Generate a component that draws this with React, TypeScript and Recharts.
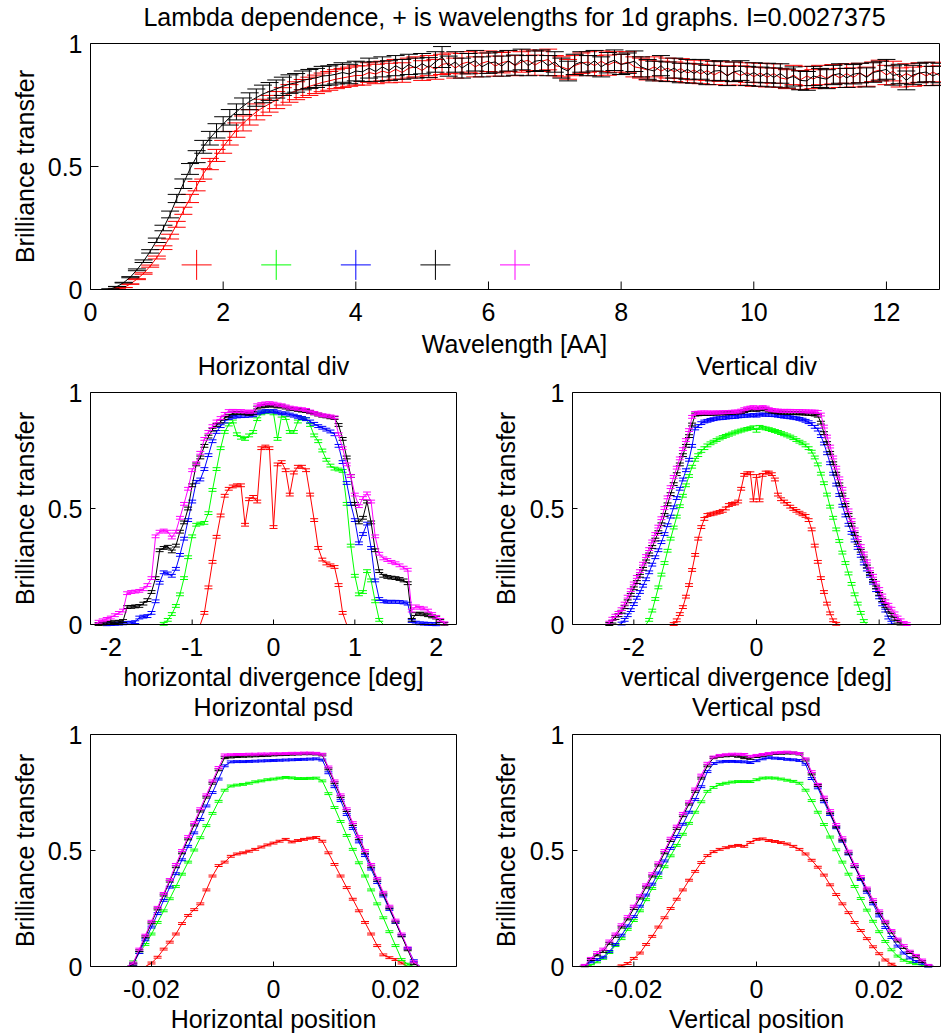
import React from 'react';
import { ComposedChart, Line, XAxis, YAxis, ErrorBar, Scatter } from 'recharts';

const W = 941;
const H = 1036;
const FONT = '"Liberation Sans", Arial, Helvetica, sans-serif';
const FS = 25;

const COLORS: Record<string, string> = { r: '#ff0000', g: '#00ff00', b: '#0000ff', k: '#000000', m: '#ff00ff' };

// ---------- Top panel: wavelength dependence (x from 0.1 step 0.1) ----------
const WL_START = 0.1;
const WL_STEP = 0.1;
const WL_TICKS = [0, 2, 4, 6, 8, 10, 12];
const WL_RED = [
  0, 0, 0, 0.002, 0.008, 0.022, 0.042, 0.065, 0.095, 0.13,
  0.17, 0.215, 0.265, 0.32, 0.37, 0.42, 0.47, 0.51, 0.545, 0.58,
  0.615, 0.648, 0.675, 0.7, 0.722, 0.74, 0.755, 0.77, 0.785, 0.797,
  0.808, 0.817, 0.826, 0.834, 0.842, 0.848, 0.855, 0.86, 0.865, 0.87,
  0.87, 0.882, 0.876, 0.888, 0.88, 0.895, 0.882, 0.9, 0.905, 0.89,
  0.91, 0.895, 0.915, 0.92, 0.9, 0.918, 0.925, 0.905, 0.92, 0.928,
  0.908, 0.922, 0.928, 0.91, 0.925, 0.932, 0.912, 0.928, 0.935, 0.91,
  0.905, 0.895, 0.91, 0.92, 0.925, 0.91, 0.928, 0.912, 0.925, 0.915,
  0.925, 0.905, 0.9, 0.892, 0.905, 0.888, 0.9, 0.885, 0.898, 0.88,
  0.892, 0.876, 0.89, 0.872, 0.886, 0.87, 0.885, 0.87, 0.882, 0.865,
  0.88, 0.862, 0.878, 0.86, 0.855, 0.872, 0.852, 0.868, 0.855, 0.872,
  0.858, 0.875, 0.86, 0.878, 0.862, 0.88, 0.865, 0.885, 0.892, 0.872,
  0.888, 0.862, 0.878, 0.865, 0.882, 0.868, 0.884, 0.87,
];
const WL_BLACK = [
  0, 0, 0.002, 0.012, 0.028, 0.05, 0.08, 0.115, 0.155, 0.2,
  0.25, 0.305, 0.37, 0.43, 0.49, 0.54, 0.58, 0.615, 0.645, 0.672,
  0.7, 0.722, 0.745, 0.765, 0.78, 0.795, 0.805, 0.815, 0.826, 0.835,
  0.84, 0.85, 0.856, 0.86, 0.868, 0.87, 0.875, 0.882, 0.876, 0.888,
  0.885, 0.9, 0.886, 0.905, 0.89, 0.91, 0.895, 0.915, 0.9, 0.918,
  0.902, 0.925, 0.945, 0.908, 0.925, 0.9, 0.918, 0.93, 0.905, 0.92,
  0.925, 0.908, 0.93, 0.912, 0.935, 0.91, 0.928, 0.932, 0.91, 0.925,
  0.9, 0.888, 0.915, 0.925, 0.91, 0.93, 0.905, 0.922, 0.932, 0.915,
  0.92, 0.928, 0.905, 0.895, 0.888, 0.91, 0.885, 0.9, 0.88, 0.895,
  0.878, 0.895, 0.872, 0.888, 0.89, 0.868, 0.885, 0.89, 0.868, 0.882,
  0.865, 0.88, 0.862, 0.878, 0.858, 0.866, 0.85, 0.848, 0.868, 0.86,
  0.855, 0.872, 0.878, 0.86, 0.875, 0.88, 0.862, 0.882, 0.888, 0.895,
  0.87, 0.876, 0.85, 0.872, 0.88, 0.884, 0.868, 0.88,
];
const TOP_REL_ERR = 0.045;
// wavelengths used for the 1d graphs (the big + markers)
const MARK_WL = [1.6, 2.8, 4.0, 5.2, 6.4];
const MARK_LEVEL = 0.1;
const MARK_COLORS = ['r', 'g', 'b', 'k', 'm'];

// ---------- Horizontal divergence (x from -2.2 step 0.05) ----------
const HDIV_START = -2.2;
const HDIV_STEP = 0.05;
const HDIV_TICKS = [-2, -1, 0, 1, 2];
const HDIV_R = [
  0, 0, 0, 0, 0, 0, 0, 0, 0, 0,
  0, 0, 0, 0, 0, 0, 0, 0, 0, 0,
  0, 0, 0, 0, 0, 0, 0, 0.05, 0.16, 0.27,
  0.378, 0.47, 0.555, 0.585, 0.595, 0.6, 0.6, 0.43, 0.54, 0.55,
  0.53, 0.76, 0.767, 0.76, 0.42, 0.69, 0.7, 0.665, 0.56, 0.655,
  0.68, 0.68, 0.665, 0.56, 0.45, 0.33, 0.28, 0.263, 0.255, 0.248,
  0.17, 0.05, 0, 0, 0, 0, 0, 0, 0, 0,
  0, 0, 0, 0, 0, 0, 0, 0, 0, 0,
  0, 0, 0, 0, 0, 0, 0, 0, 0,
];
const HDIV_G = [
  0, 0, 0, 0, 0, 0, 0, 0, 0, 0,
  0, 0, 0, 0, 0, 0, 0, 0.003, 0.02, 0.045,
  0.08, 0.13, 0.2, 0.29, 0.38, 0.43, 0.435, 0.438, 0.48, 0.58,
  0.67, 0.76, 0.83, 0.862, 0.875, 0.82, 0.805, 0.8, 0.815, 0.83,
  0.885, 0.91, 0.915, 0.918, 0.91, 0.8, 0.9, 0.89, 0.83, 0.83,
  0.875, 0.89, 0.885, 0.86, 0.815, 0.79, 0.75, 0.71, 0.685, 0.672,
  0.668, 0.662, 0.52, 0.34, 0.21, 0.13, 0.14, 0.23, 0.19, 0.1,
  0.02, 0, 0, 0, 0, 0, 0, 0, 0, 0,
  0, 0, 0, 0, 0, 0, 0, 0, 0,
];
const HDIV_B = [
  0, 0, 0, 0.001, 0.002, 0.003, 0.004, 0.005, 0.006, 0.008,
  0.01, 0.03, 0.034, 0.036, 0.05, 0.1, 0.18, 0.225, 0.22, 0.21,
  0.24, 0.3, 0.37, 0.45, 0.53, 0.615, 0.625, 0.67, 0.73, 0.79,
  0.83, 0.855, 0.875, 0.89, 0.895, 0.897, 0.898, 0.899, 0.9, 0.902,
  0.91, 0.915, 0.92, 0.918, 0.92, 0.915, 0.91, 0.91, 0.905, 0.9,
  0.895, 0.89, 0.885, 0.875, 0.865, 0.855, 0.848, 0.84, 0.832, 0.82,
  0.77, 0.7, 0.61, 0.52, 0.45, 0.35, 0.39, 0.435, 0.33, 0.19,
  0.11, 0.1, 0.098, 0.098, 0.098, 0.097, 0.095, 0.09, 0.015, 0.008,
  0.005, 0.004, 0.003, 0.002, 0.001, 0, 0, 0, 0,
];
const HDIV_K = [
  0, 0.002, 0.004, 0.006, 0.008, 0.01, 0.012, 0.015, 0.075, 0.076,
  0.078, 0.08, 0.09, 0.105, 0.14, 0.2, 0.32, 0.33, 0.335, 0.315,
  0.34, 0.4, 0.44, 0.5, 0.6, 0.69, 0.72, 0.77, 0.81, 0.84,
  0.86, 0.875, 0.89, 0.9, 0.91, 0.912, 0.912, 0.91, 0.908, 0.91,
  0.935, 0.94, 0.942, 0.945, 0.943, 0.94, 0.94, 0.935, 0.93, 0.928,
  0.925, 0.922, 0.92, 0.915, 0.91, 0.905, 0.9, 0.897, 0.893, 0.89,
  0.86, 0.8, 0.72, 0.64, 0.52, 0.44, 0.46, 0.53, 0.44, 0.32,
  0.23, 0.21, 0.205, 0.202, 0.2, 0.196, 0.19, 0.178, 0.02, 0.045,
  0.047, 0.044, 0.04, 0.035, 0.03, 0.015, 0.003, 0, 0,
];
const HDIV_M = [
  0, 0.012, 0.018, 0.024, 0.03, 0.04, 0.05, 0.06, 0.135, 0.14,
  0.142, 0.145, 0.152, 0.17, 0.2, 0.38, 0.4, 0.405, 0.4, 0.375,
  0.4, 0.46, 0.52, 0.585, 0.665, 0.695, 0.74, 0.8, 0.83, 0.855,
  0.875, 0.89, 0.908, 0.92, 0.921, 0.92, 0.92, 0.918, 0.917, 0.918,
  0.945, 0.95, 0.953, 0.954, 0.952, 0.948, 0.945, 0.94, 0.935, 0.932,
  0.93, 0.928, 0.925, 0.918, 0.912, 0.906, 0.902, 0.9, 0.897, 0.893,
  0.82, 0.76, 0.69, 0.64, 0.56, 0.51, 0.545, 0.565, 0.53, 0.38,
  0.305, 0.285, 0.278, 0.27, 0.264, 0.255, 0.245, 0.236, 0.06, 0.078,
  0.072, 0.069, 0.06, 0.045, 0.033, 0.02, 0.005, 0, 0,
];

// ---------- Vertical divergence (x from -2.5 step 0.05) ----------
const VDIV_START = -2.5;
const VDIV_STEP = 0.05;
const VDIV_TICKS = [-2, 0, 2];
const VDIV_R = [
  0, 0, 0, 0, 0, 0, 0, 0, 0, 0,
  0, 0, 0, 0, 0, 0, 0, 0, 0, 0,
  0, 0, 0, 0.002, 0.018, 0.045, 0.075, 0.12, 0.17, 0.235,
  0.3, 0.37, 0.42, 0.455, 0.472, 0.475, 0.478, 0.482, 0.485, 0.49,
  0.5, 0.515, 0.52, 0.522, 0.53, 0.585, 0.645, 0.652, 0.652, 0.535,
  0.64, 0.535, 0.645, 0.655, 0.655, 0.648, 0.625, 0.56, 0.54, 0.53,
  0.52, 0.508, 0.498, 0.49, 0.482, 0.475, 0.468, 0.45, 0.41, 0.34,
  0.27, 0.2, 0.14, 0.09, 0.048, 0.018, 0.003, 0, 0, 0,
  0, 0, 0, 0, 0, 0, 0, 0, 0, 0,
  0, 0, 0, 0, 0, 0, 0, 0, 0, 0,
  0,
];
const VDIV_G = [
  0, 0, 0, 0, 0, 0, 0, 0, 0, 0,
  0, 0, 0, 0, 0, 0.02, 0.06, 0.11, 0.16, 0.215,
  0.265, 0.318, 0.37, 0.418, 0.465, 0.51, 0.555, 0.6, 0.64, 0.68,
  0.71, 0.73, 0.748, 0.76, 0.772, 0.781, 0.788, 0.795, 0.802, 0.808,
  0.813, 0.818, 0.823, 0.828, 0.832, 0.836, 0.84, 0.843, 0.846, 0.85,
  0.835, 0.852, 0.848, 0.845, 0.842, 0.838, 0.834, 0.83, 0.825, 0.82,
  0.815, 0.81, 0.803, 0.795, 0.788, 0.781, 0.772, 0.76, 0.745, 0.72,
  0.69, 0.65, 0.609, 0.56, 0.508, 0.46, 0.41, 0.36, 0.31, 0.265,
  0.22, 0.175, 0.13, 0.09, 0.05, 0.015, 0, 0, 0, 0,
  0, 0, 0, 0, 0, 0, 0, 0, 0, 0,
  0,
];
const VDIV_B = [
  0, 0, 0, 0, 0, 0, 0.004, 0.02, 0.04, 0.062,
  0.088, 0.115, 0.14, 0.167, 0.195, 0.225, 0.258, 0.29, 0.32, 0.355,
  0.39, 0.428, 0.465, 0.505, 0.545, 0.585, 0.625, 0.665, 0.71, 0.77,
  0.845, 0.855, 0.868, 0.875, 0.878, 0.882, 0.885, 0.888, 0.889, 0.89,
  0.892, 0.893, 0.894, 0.895, 0.897, 0.898, 0.9, 0.9, 0.901, 0.903,
  0.9, 0.905, 0.905, 0.904, 0.904, 0.903, 0.902, 0.9, 0.898, 0.896,
  0.895, 0.893, 0.891, 0.889, 0.886, 0.883, 0.878, 0.872, 0.864, 0.852,
  0.84, 0.812, 0.78, 0.738, 0.695, 0.65, 0.603, 0.558, 0.512, 0.47,
  0.43, 0.395, 0.362, 0.33, 0.296, 0.263, 0.237, 0.21, 0.18, 0.148,
  0.117, 0.087, 0.06, 0.03, 0.008, 0, 0, 0, 0, 0,
  0,
];
const VDIV_K = [
  0, 0, 0.002, 0.012, 0.028, 0.04, 0.055, 0.075, 0.1, 0.128,
  0.156, 0.183, 0.21, 0.24, 0.272, 0.302, 0.334, 0.366, 0.398, 0.432,
  0.472, 0.518, 0.562, 0.605, 0.648, 0.69, 0.73, 0.77, 0.812, 0.862,
  0.905, 0.906, 0.907, 0.907, 0.908, 0.908, 0.909, 0.909, 0.91, 0.91,
  0.91, 0.911, 0.912, 0.913, 0.914, 0.916, 0.92, 0.924, 0.926, 0.927,
  0.925, 0.928, 0.93, 0.927, 0.922, 0.918, 0.916, 0.914, 0.913, 0.913,
  0.912, 0.912, 0.911, 0.911, 0.91, 0.91, 0.909, 0.908, 0.907, 0.905,
  0.9, 0.87, 0.825, 0.782, 0.74, 0.695, 0.65, 0.604, 0.56, 0.515,
  0.472, 0.43, 0.39, 0.352, 0.318, 0.285, 0.25, 0.218, 0.188, 0.16,
  0.132, 0.105, 0.08, 0.06, 0.042, 0.025, 0.012, 0.004, 0, 0,
  0,
];
const VDIV_M = [
  0, 0, 0.008, 0.025, 0.038, 0.05, 0.066, 0.09, 0.12, 0.148,
  0.177, 0.205, 0.23, 0.262, 0.295, 0.325, 0.358, 0.39, 0.422, 0.458,
  0.502, 0.548, 0.592, 0.636, 0.676, 0.716, 0.756, 0.795, 0.838, 0.895,
  0.912, 0.913, 0.914, 0.914, 0.914, 0.913, 0.914, 0.914, 0.914, 0.915,
  0.915, 0.916, 0.917, 0.918, 0.918, 0.922, 0.928, 0.932, 0.935, 0.937,
  0.932, 0.935, 0.937, 0.935, 0.928, 0.925, 0.923, 0.922, 0.921, 0.921,
  0.921, 0.921, 0.92, 0.92, 0.92, 0.919, 0.919, 0.918, 0.918, 0.918,
  0.916, 0.905, 0.853, 0.81, 0.767, 0.72, 0.676, 0.63, 0.585, 0.537,
  0.492, 0.45, 0.41, 0.372, 0.338, 0.306, 0.272, 0.238, 0.21, 0.18,
  0.153, 0.125, 0.1, 0.085, 0.068, 0.048, 0.03, 0.018, 0.007, 0.002,
  0,
];
const DIV_ERR = 0.006;

// ---------- Horizontal psd (x from -0.03 step 0.001) ----------
const PSD_START = -0.03;
const PSD_STEP = 0.001;
const PSD_TICKS = [-0.02, 0, 0.02];
const HPSD_R = [
  0, 0, 0, 0, 0, 0, 0, 0, 0, 0,
  0.015, 0.04, 0.075, 0.105, 0.14, 0.185, 0.22, 0.245, 0.27, 0.33,
  0.39, 0.435, 0.45, 0.475, 0.485, 0.49, 0.497, 0.505, 0.515, 0.524,
  0.532, 0.54, 0.548, 0.537, 0.543, 0.548, 0.553, 0.556, 0.54, 0.49,
  0.44, 0.39, 0.34, 0.29, 0.24, 0.19, 0.14, 0.09, 0.05, 0.038,
  0.03, 0.015, 0, 0, 0, 0, 0, 0, 0, 0,
  0,
];
const HPSD_G = [
  0, 0, 0, 0, 0, 0, 0, 0.02, 0.06, 0.095,
  0.14, 0.19, 0.24, 0.292, 0.345, 0.398, 0.45, 0.502, 0.555, 0.607,
  0.66, 0.712, 0.76, 0.778, 0.782, 0.785, 0.79, 0.796, 0.8, 0.805,
  0.808, 0.812, 0.815, 0.813, 0.81, 0.81, 0.811, 0.812, 0.8, 0.745,
  0.685, 0.625, 0.565, 0.505, 0.447, 0.39, 0.33, 0.27, 0.21, 0.15,
  0.09, 0.03, 0.01, 0, 0, 0, 0, 0, 0, 0,
  0,
];
const HPSD_B = [
  0, 0, 0, 0, 0, 0, 0, 0.01, 0.06, 0.115,
  0.17, 0.228, 0.285, 0.342, 0.4, 0.46, 0.518, 0.576, 0.634, 0.692,
  0.75, 0.808, 0.865, 0.882, 0.883, 0.883, 0.884, 0.885, 0.886, 0.887,
  0.888, 0.889, 0.89, 0.891, 0.892, 0.893, 0.894, 0.895, 0.89, 0.835,
  0.775, 0.715, 0.655, 0.595, 0.537, 0.478, 0.42, 0.362, 0.304, 0.246,
  0.19, 0.134, 0.078, 0.025, 0, 0, 0, 0, 0, 0,
  0,
];
const HPSD_K = [
  0, 0, 0, 0, 0, 0, 0, 0.01, 0.068, 0.128,
  0.188, 0.248, 0.308, 0.368, 0.43, 0.49, 0.55, 0.61, 0.67, 0.73,
  0.79, 0.848, 0.9, 0.903, 0.905, 0.906, 0.907, 0.908, 0.909, 0.91,
  0.912, 0.913, 0.914, 0.915, 0.916, 0.917, 0.917, 0.916, 0.912, 0.852,
  0.792, 0.732, 0.672, 0.612, 0.552, 0.492, 0.432, 0.372, 0.312, 0.252,
  0.192, 0.132, 0.072, 0.012, 0, 0, 0, 0, 0, 0,
  0,
];
const HPSD_M = [
  0, 0, 0, 0, 0, 0, 0, 0.015, 0.075, 0.135,
  0.195, 0.255, 0.315, 0.375, 0.44, 0.5, 0.56, 0.62, 0.68, 0.74,
  0.8, 0.858, 0.912, 0.913, 0.914, 0.914, 0.915, 0.915, 0.916, 0.916,
  0.917, 0.917, 0.918, 0.919, 0.919, 0.92, 0.92, 0.919, 0.915, 0.86,
  0.8, 0.74, 0.68, 0.62, 0.56, 0.5, 0.44, 0.38, 0.32, 0.26,
  0.2, 0.14, 0.08, 0.02, 0, 0, 0, 0, 0, 0,
  0,
];

// ---------- Vertical psd (x from -0.03 step 0.001) ----------
const VPSD_R = [
  0, 0, 0, 0, 0, 0, 0, 0, 0.003, 0.013,
  0.035, 0.058, 0.095, 0.13, 0.17, 0.21, 0.25, 0.29, 0.33, 0.372,
  0.41, 0.448, 0.478, 0.495, 0.505, 0.512, 0.518, 0.522, 0.518, 0.535,
  0.548, 0.55, 0.543, 0.539, 0.534, 0.528, 0.518, 0.505, 0.485, 0.458,
  0.428, 0.394, 0.352, 0.31, 0.27, 0.232, 0.19, 0.155, 0.12, 0.085,
  0.055, 0.028, 0.01, 0, 0, 0, 0, 0, 0, 0,
  0,
];
const VPSD_G = [
  0, 0, 0, 0.005, 0.02, 0.035, 0.06, 0.09, 0.12, 0.16,
  0.198, 0.24, 0.288, 0.336, 0.384, 0.43, 0.477, 0.522, 0.57, 0.617,
  0.665, 0.71, 0.755, 0.772, 0.785, 0.79, 0.795, 0.797, 0.797, 0.797,
  0.805, 0.812, 0.813, 0.812, 0.808, 0.803, 0.798, 0.79, 0.76, 0.715,
  0.665, 0.612, 0.558, 0.503, 0.45, 0.398, 0.345, 0.293, 0.243, 0.195,
  0.15, 0.108, 0.072, 0.045, 0.027, 0.018, 0.012, 0.004, 0, 0,
  0,
];
const VPSD_B = [
  0, 0, 0, 0.02, 0.03, 0.04, 0.065, 0.095, 0.135, 0.175,
  0.215, 0.26, 0.308, 0.355, 0.403, 0.455, 0.509, 0.56, 0.613, 0.665,
  0.72, 0.775, 0.84, 0.875, 0.882, 0.884, 0.884, 0.883, 0.882, 0.879,
  0.887, 0.895, 0.9, 0.898, 0.896, 0.893, 0.891, 0.888, 0.872, 0.81,
  0.77, 0.71, 0.655, 0.598, 0.54, 0.485, 0.43, 0.375, 0.32, 0.27,
  0.218, 0.168, 0.125, 0.088, 0.058, 0.037, 0.022, 0.014, 0.002, 0,
  0,
];
const VPSD_K = [
  0, 0, 0.003, 0.03, 0.05, 0.065, 0.1, 0.13, 0.17, 0.205,
  0.25, 0.295, 0.342, 0.39, 0.437, 0.49, 0.543, 0.595, 0.65, 0.7,
  0.755, 0.812, 0.865, 0.9, 0.906, 0.908, 0.91, 0.906, 0.9, 0.897,
  0.905, 0.91, 0.915, 0.918, 0.919, 0.92, 0.92, 0.916, 0.89, 0.83,
  0.78, 0.72, 0.662, 0.602, 0.545, 0.488, 0.432, 0.38, 0.33, 0.28,
  0.232, 0.188, 0.148, 0.11, 0.082, 0.06, 0.042, 0.022, 0.003, 0,
  0,
];
const VPSD_M = [
  0, 0, 0.005, 0.035, 0.06, 0.075, 0.11, 0.14, 0.18, 0.215,
  0.26, 0.305, 0.352, 0.4, 0.447, 0.5, 0.553, 0.605, 0.66, 0.71,
  0.765, 0.825, 0.876, 0.903, 0.91, 0.913, 0.915, 0.915, 0.914, 0.906,
  0.91, 0.914, 0.918, 0.921, 0.923, 0.924, 0.921, 0.918, 0.895, 0.84,
  0.785, 0.73, 0.672, 0.612, 0.555, 0.497, 0.44, 0.388, 0.338, 0.288,
  0.24, 0.195, 0.155, 0.118, 0.09, 0.066, 0.048, 0.028, 0.005, 0,
  0,
];
const PSD_ERR = 0.004;

const Y_TICKS = [0, 0.5, 1];

// ---------- text ----------
const MAIN_TITLE = 'Lambda dependence, + is wavelengths for 1d graphs. I=0.0027375';
const Y_LABEL = 'Brilliance transfer';

type Rect = { l: number; r: number; t: number; b: number };
type SeriesDef = { key: string; values: number[] };

function buildRows(start: number, step: number, defs: SeriesDef[], err: (v: number) => number) {
  const n = defs[0].values.length;
  const rows: any[] = [];
  for (let i = 0; i < n; i++) {
    const row: any = { x: +(start + i * step).toFixed(5) };
    defs.forEach((d) => {
      const v = d.values[i];
      row[d.key] = v;
      row[d.key + 'Err'] = v > 0 ? err(v) : null;
    });
    rows.push(row);
  }
  return rows;
}

const AX = { stroke: '#000', strokeWidth: 1 };

function Panel(props: {
  rect: Rect;
  rows: any[];
  keys: string[];
  xDomain: [number, number];
  xTicks: number[];
  tickLen: number;
  cap: number;
  markers?: any[];
  markerSize?: number;
}) {
  const { rect, rows, keys, xDomain, xTicks, tickLen, cap, markers, markerSize } = props;
  const A = 0.5;
  const margin = { left: rect.l - A, right: W - rect.r - A, top: rect.t - A, bottom: H - rect.b - A };
  const xTick = (p: any) => (
    <text x={p.x} y={rect.b + 22.5} textAnchor="middle" dominantBaseline="central" fontSize={FS} fontFamily={FONT} fill="#000">
      {String(p.payload.value)}
    </text>
  );
  const yTick = (p: any) => (
    <text x={rect.l - 8} y={p.y} textAnchor="end" dominantBaseline="central" fontSize={FS} fontFamily={FONT} fill="#000">
      {String(p.payload.value)}
    </text>
  );
  const cross = (p: any) => {
    const s = markerSize || 15;
    const c = COLORS[p.payload.color];
    return (
      <g>
        <line x1={p.cx - s} x2={p.cx + s} y1={p.cy} y2={p.cy} stroke={c} strokeWidth={1} />
        <line x1={p.cx} x2={p.cx} y1={p.cy - s} y2={p.cy + s} stroke={c} strokeWidth={1} />
      </g>
    );
  };
  return (
    <div style={{ position: 'absolute', left: 0, top: 0 }}>
      <ComposedChart width={W} height={H} data={rows} margin={margin}>
        <XAxis xAxisId="b" type="number" dataKey="x" domain={xDomain} ticks={xTicks} allowDataOverflow orientation="bottom"
          height={A} tickSize={-tickLen} axisLine={AX} tickLine={AX} tick={xTick} interval={0} />
        <XAxis xAxisId="t" type="number" dataKey="x" domain={xDomain} ticks={xTicks} allowDataOverflow orientation="top"
          height={A} tickSize={-tickLen} axisLine={AX} tickLine={AX} tick={false} interval={0} />
        <YAxis yAxisId="l" type="number" domain={[0, 1]} ticks={Y_TICKS} allowDataOverflow orientation="left"
          width={A} tickSize={-tickLen} axisLine={AX} tickLine={AX} tick={yTick} interval={0} />
        <YAxis yAxisId="r" type="number" domain={[0, 1]} ticks={Y_TICKS} allowDataOverflow orientation="right"
          width={A} tickSize={-tickLen} axisLine={AX} tickLine={AX} tick={false} interval={0} />
        {keys.map((k) => (
          <Line key={k} xAxisId="b" yAxisId="l" type="linear" dataKey={k} stroke={COLORS[k]} strokeWidth={1}
            dot={false} activeDot={false} isAnimationActive={false}>
            <ErrorBar dataKey={k + 'Err'} width={cap} stroke={COLORS[k]} strokeWidth={1} direction="y" isAnimationActive={false} />
          </Line>
        ))}
        {markers ? (
          <Scatter xAxisId="b" yAxisId="l" data={markers} dataKey="y" isAnimationActive={false} shape={cross} />
        ) : null}
      </ComposedChart>
    </div>
  );
}

const RECT_TOP: Rect = { l: 90.5, r: 939.5, t: 43.5, b: 289.5 };
const RECT_HDIV: Rect = { l: 90.5, r: 456.5, t: 392.5, b: 624.5 };
const RECT_VDIV: Rect = { l: 572.5, r: 940.5, t: 392.5, b: 624.5 };
const RECT_HPSD: Rect = { l: 90.5, r: 456.5, t: 734.5, b: 966.5 };
const RECT_VPSD: Rect = { l: 572.5, r: 940.5, t: 734.5, b: 966.5 };

const ORDER = ['r', 'g', 'b', 'k', 'm'];

export default function App() {
  const topRows = buildRows(WL_START, WL_STEP, [
    { key: 'r', values: WL_RED },
    { key: 'k', values: WL_BLACK },
  ], (v) => v * TOP_REL_ERR);
  const markers = MARK_WL.map((x, i) => ({ x, y: MARK_LEVEL, color: MARK_COLORS[i] }));

  const hdivRows = buildRows(HDIV_START, HDIV_STEP, [
    { key: 'r', values: HDIV_R }, { key: 'g', values: HDIV_G }, { key: 'b', values: HDIV_B },
    { key: 'k', values: HDIV_K }, { key: 'm', values: HDIV_M },
  ], () => DIV_ERR);
  const vdivRows = buildRows(VDIV_START, VDIV_STEP, [
    { key: 'r', values: VDIV_R }, { key: 'g', values: VDIV_G }, { key: 'b', values: VDIV_B },
    { key: 'k', values: VDIV_K }, { key: 'm', values: VDIV_M },
  ], () => DIV_ERR);
  const hpsdRows = buildRows(PSD_START, PSD_STEP, [
    { key: 'r', values: HPSD_R }, { key: 'g', values: HPSD_G }, { key: 'b', values: HPSD_B },
    { key: 'k', values: HPSD_K }, { key: 'm', values: HPSD_M },
  ], () => PSD_ERR);
  const vpsdRows = buildRows(PSD_START, PSD_STEP, [
    { key: 'r', values: VPSD_R }, { key: 'g', values: VPSD_G }, { key: 'b', values: VPSD_B },
    { key: 'k', values: VPSD_K }, { key: 'm', values: VPSD_M },
  ], () => PSD_ERR);

  const labels = [
    { x: 514.5, y: 16.7, t: MAIN_TITLE },
    { x: 514.5, y: 343.5, t: 'Wavelength [AA]' },
    { x: 273.5, y: 365.7, t: 'Horizontal div' },
    { x: 273.5, y: 677, t: 'horizontal divergence [deg]' },
    { x: 756.5, y: 365.7, t: 'Vertical div' },
    { x: 756.5, y: 677, t: 'vertical divergence [deg]' },
    { x: 273.5, y: 707, t: 'Horizontal psd' },
    { x: 273.5, y: 1018.7, t: 'Horizontal position' },
    { x: 756.5, y: 707, t: 'Vertical psd' },
    { x: 756.5, y: 1018.7, t: 'Vertical position' },
  ];
  const yLabels = [
    { x: 25, y: 166.5 },
    { x: 24.5, y: 508.5 },
    { x: 506, y: 508.5 },
    { x: 24.5, y: 850.5 },
    { x: 506, y: 850.5 },
  ];

  return (
    <div style={{ position: 'absolute', left: 0, top: 0, width: W, height: H, background: '#fff', overflow: 'hidden' }}>
      <Panel rect={RECT_TOP} rows={topRows} keys={['r', 'k']} xDomain={[0, 12.8]} xTicks={WL_TICKS} tickLen={8} cap={9}
        markers={markers} markerSize={15} />
      <Panel rect={RECT_HDIV} rows={hdivRows} keys={ORDER} xDomain={[-2.25, 2.25]} xTicks={HDIV_TICKS} tickLen={5} cap={4} />
      <Panel rect={RECT_VDIV} rows={vdivRows} keys={ORDER} xDomain={[-3, 3]} xTicks={VDIV_TICKS} tickLen={5} cap={4} />
      <Panel rect={RECT_HPSD} rows={hpsdRows} keys={ORDER} xDomain={[-0.03, 0.03]} xTicks={PSD_TICKS} tickLen={5} cap={4} />
      <Panel rect={RECT_VPSD} rows={vpsdRows} keys={ORDER} xDomain={[-0.03, 0.03]} xTicks={PSD_TICKS} tickLen={5} cap={4} />
      <svg width={W} height={H} style={{ position: 'absolute', left: 0, top: 0, pointerEvents: 'none' }}>
        {labels.map((l, i) => (
          <text key={i} x={l.x} y={l.y} textAnchor="middle" dominantBaseline="central" fontSize={FS} fontFamily={FONT} fill="#000">
            {l.t}
          </text>
        ))}
        {yLabels.map((l, i) => (
          <text key={'y' + i} transform={`translate(${l.x},${l.y}) rotate(-90)`} textAnchor="middle" dominantBaseline="central"
            fontSize={FS} fontFamily={FONT} fill="#000">
            {Y_LABEL}
          </text>
        ))}
      </svg>
    </div>
  );
}
